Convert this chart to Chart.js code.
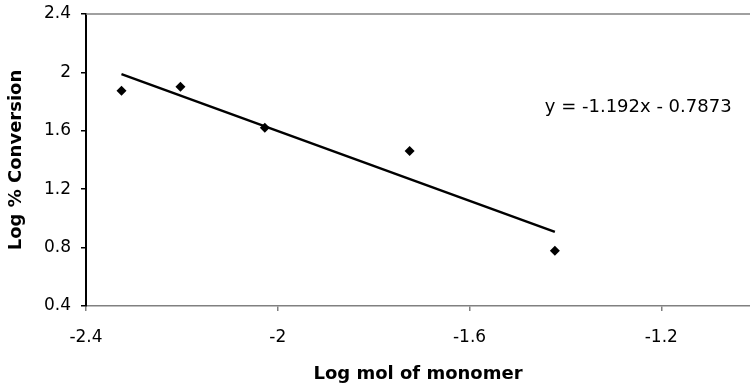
<!DOCTYPE html>
<html>
<head>
<meta charset="utf-8">
<script src="https://cdn.jsdelivr.net/npm/chart.js@4/dist/chart.umd.min.js"></script>
<style>
  html, body { margin: 0; padding: 0; background: #fff; overflow: hidden; }
  #wrap { width: 755px; height: 391px; position: relative; }
</style>
</head>
<body>
<div id="wrap"><canvas id="chart"></canvas></div>
<script>
  // measured points
  const logMonomer = [-2.326, -2.203, -2.027, -1.725, -1.422];
  const logConversion = [1.875, 1.902, 1.621, 1.462, 0.779];

  // trend line endpoints
  const trendX = [-2.326, -1.422];
  const trendY = [1.988, 0.908];
  const equationText = "y = -1.192x - 0.7873";
  const equationPos = { x: -1.443, y: 1.763 };

  // axis ticks
  const xTicks = [-2.4, -2, -1.6, -1.2];
  const yTicks = [0.4, 0.8, 1.2, 1.6, 2, 2.4];

  const FONT = "'DejaVu Sans', 'Liberation Sans', Arial, sans-serif";

  // top frame line + regression equation
  const extras = {
    id: "extras",
    afterDatasetsDraw(chart) {
      const { ctx, chartArea, scales } = chart;
      ctx.save();
      ctx.strokeStyle = "#808080";
      ctx.lineWidth = 1.5;
      ctx.beginPath();
      ctx.moveTo(chartArea.left, chartArea.top);
      ctx.lineTo(chartArea.right, chartArea.top);
      ctx.stroke();

      ctx.fillStyle = "#000";
      ctx.font = "18px " + FONT;
      ctx.textAlign = "left";
      ctx.textBaseline = "middle";
      ctx.fillText(equationText, scales.x.getPixelForValue(equationPos.x), scales.y.getPixelForValue(equationPos.y));
      ctx.restore();
    }
  };

  new Chart(document.getElementById("chart"), {
    type: "scatter",
    data: {
      datasets: [
        {
          label: "data",
          data: logMonomer.map((x, i) => ({ x, y: logConversion[i] })),
          pointStyle: "rectRot",
          pointRadius: 5,
          backgroundColor: "#000",
          borderColor: "#000",
          borderWidth: 0
        },
        {
          label: "trend",
          type: "line",
          data: trendX.map((x, i) => ({ x, y: trendY[i] })),
          borderColor: "#000",
          borderWidth: 2.5,
          pointRadius: 0,
          fill: false
        }
      ]
    },
    options: {
      responsive: true,
      maintainAspectRatio: false,
      animation: false,
      layout: { padding: { top: 14, right: 0, left: 0, bottom: 0 } },
      plugins: { legend: { display: false }, tooltip: { enabled: false } },
      scales: {
        x: {
          type: "linear",
          min: -2.4,
          max: -1.015,
          afterFit: (s) => { s.height = 85; s.paddingLeft = 0; s.paddingRight = 0; },
          afterBuildTicks: (s) => { s.ticks = xTicks.map((v) => ({ value: v })); },
          ticks: {
            autoSkip: false,
            color: "#000",
            padding: 16,
            maxRotation: 0,
            font: { family: FONT, size: 17 },
            callback: (v) => String(v)
          },
          grid: {
            drawOnChartArea: false,
            drawTicks: true,
            tickLength: 5,
            color: "#808080",
            lineWidth: 1.5
          },
          border: { display: true, color: "#808080", width: 1.5 },
          title: {
            display: true,
            text: "Log mol of monomer",
            color: "#000",
            font: { family: FONT, size: 18, weight: "bold" },
            padding: { top: 0, bottom: 6 }
          }
        },
        y: {
          min: 0.4,
          max: 2.4,
          afterFit: (s) => { s.width = 86; s.paddingTop = 0; s.paddingBottom = 0; },
          afterBuildTicks: (s) => { s.ticks = yTicks.map((v) => ({ value: v })); },
          ticks: {
            autoSkip: false,
            color: "#000",
            padding: 10,
            font: { family: FONT, size: 17 },
            callback: (v) => String(v)
          },
          grid: { drawOnChartArea: false, drawTicks: true, tickLength: 5, color: "#000", lineWidth: 1.5 },
          border: { display: true, color: "#000", width: 2 },
          title: {
            display: true,
            text: "Log % Conversion",
            color: "#000",
            font: { family: FONT, size: 18, weight: "bold" },
            padding: { top: 6, bottom: 0 }
          }
        }
      }
    },
    plugins: [extras]
  });
</script>
</body>
</html>
